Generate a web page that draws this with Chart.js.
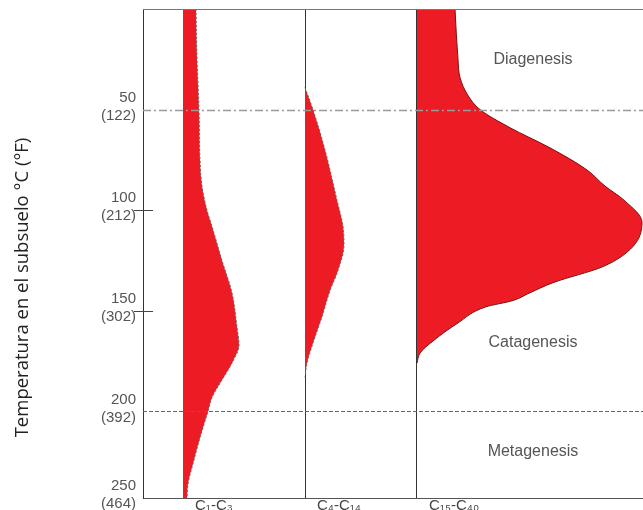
<!DOCTYPE html>
<html>
<head>
<meta charset="utf-8">
<script src="https://cdn.jsdelivr.net/npm/chart.js@4.4.1/dist/chart.umd.min.js"></script>
<style>
    html, body { margin: 0; padding: 0; background: #fff; }
    #wrap { width: 643px; height: 510px; position: relative; }
</style>
</head>
<body>
<div id="wrap"><canvas id="myChart"></canvas></div>
<script>
// Hydrocarbon generation vs. subsurface temperature (°C), relative amount per level
const c1c3Temp = [0, 25, 50, 75, 88, 100, 108, 125, 141, 158, 167, 175, 186, 193, 200, 213, 226, 236, 243];
const c1c3Amount = [2.6, 2.8, 3.2, 3.4, 3.8, 4.8, 5.8, 7.8, 9.8, 10.8, 11.2, 10, 7.4, 5.8, 5, 3.4, 2, 1, 0.8];

const c4c14Temp = [39, 50, 70, 95, 108, 117, 130, 140, 153, 166, 176, 183];
const c4c14Amount = [0, 1.6, 4, 6.4, 7.6, 7.8, 6.6, 5, 3.4, 1.6, 0.4, 0];

const c15c40Temp = [0, 25, 34, 43, 50, 59, 69, 80, 88, 95, 106, 118, 128, 136, 141, 145, 148, 156, 165, 171, 176];
const c15c40Amount = [7.6, 8.2, 8.6, 10.2, 12.6, 18.6, 26.6, 34, 37.6, 41.4, 45, 43.2, 37.2, 27.2, 22.6, 19, 13.8, 8.2, 3.2, 0.6, 0];

const seriesNames = ['C₁-C₃', 'C₄-C₁₄', 'C₁₅-C₄₀'];

const tempTicks = [50, 100, 150, 200, 250];
const fahrenheitTicks = [122, 212, 302, 392, 464];

const zoneNames = ['Diagenesis', 'Catagenesis', 'Metagenesis'];
const zoneLabelTemp = [25, 166, 220];
const zoneBounds = [50, 200];

const yTitle = 'Temperatura en el subsuelo °C (°F)';

// where each column starts on the horizontal scale (0..100)
const colStart = [8, 32.4, 54.8];
const zoneLabelX = 78;
const maxTemp = 243;

const red = '#ED1C24';
const labelFont = '"Liberation Sans", Arial, sans-serif';

const toPoints = (temps, amounts, start) => temps.map((t, i) => ({ x: start + amounts[i], y: t }));

const makeSet = (temps, amounts, col, edge, dash) => ({
    label: seriesNames[col],
    data: toPoints(temps, amounts, colStart[col]),
    indexAxis: 'y',
    fill: { value: colStart[col] },
    backgroundColor: red,
    borderColor: edge,
    borderWidth: 1,
    borderDash: dash,
    pointRadius: 0,
    cubicInterpolationMode: 'monotone'
});

const zonePlugin = {
    id: 'zones',
    afterDatasetsDraw(chart) {
        const { ctx, chartArea: a, scales: { x, y } } = chart;
        ctx.save();

        // top edge of the frame
        ctx.strokeStyle = '#777';
        ctx.lineWidth = 1;
        ctx.beginPath();
        ctx.moveTo(a.left, a.top + 0.5);
        ctx.lineTo(a.right, a.top + 0.5);
        ctx.stroke();

        // diagenesis / catagenesis / metagenesis boundaries
        zoneBounds.forEach((t, i) => {
            const py = Math.round(y.getPixelForValue(t)) + 0.5;
            ctx.setLineDash(i === 0 ? [8, 3, 2, 3] : [4, 2]);
            ctx.strokeStyle = i === 0 ? '#9a9a9a' : '#666';
            ctx.lineWidth = i === 0 ? 1.5 : 1;
            ctx.beginPath();
            ctx.moveTo(a.left, py);
            ctx.lineTo(a.right, py);
            ctx.stroke();
        });
        ctx.setLineDash([]);

        // tick marks crossing the axis
        ctx.strokeStyle = '#444';
        ctx.lineWidth = 1;
        [100, 150].forEach(t => {
            const py = Math.round(y.getPixelForValue(t)) + 0.5;
            ctx.beginPath();
            ctx.moveTo(a.left - 9, py);
            ctx.lineTo(a.left + 10, py);
            ctx.stroke();
        });

        // zone names
        ctx.font = '16px ' + labelFont;
        ctx.fillStyle = '#555';
        ctx.textAlign = 'center';
        ctx.textBaseline = 'middle';
        zoneNames.forEach((name, i) => {
            ctx.fillText(name, x.getPixelForValue(zoneLabelX), y.getPixelForValue(zoneLabelTemp[i]));
        });

        // axis title
        ctx.translate(23, (a.top + a.bottom) / 2 + 34);
        ctx.rotate(-Math.PI / 2);
        ctx.font = '18.5px "Open Sans", sans-serif';
        ctx.fillStyle = '#222';
        ctx.fillText(yTitle, 0, 0);
        ctx.restore();
    }
};

const ctx = document.getElementById('myChart').getContext('2d');
const myChart = new Chart(ctx, {
    type: 'line',
    data: {
        datasets: [
            makeSet(c1c3Temp, c1c3Amount, 0, '#666', [2, 2]),
            makeSet(c4c14Temp, c4c14Amount, 1, '#666', [2, 2]),
            makeSet(c15c40Temp, c15c40Amount, 2, '#7a1010', [])
        ]
    },
    options: {
        indexAxis: 'y',
        responsive: true,
        maintainAspectRatio: false,
        animation: false,
        layout: { padding: { top: 9, left: 0, right: 0, bottom: 0 } },
        scales: {
            x: {
                type: 'linear',
                min: 0,
                max: 100,
                afterBuildTicks: (scale) => { scale.ticks = colStart.map(v => ({ value: v })); },
                afterFit: (scale) => { scale.height = 12; scale.paddingLeft = 0; scale.paddingRight = 0; },
                grid: { color: '#333', lineWidth: 1, drawTicks: false },
                border: { color: '#555' },
                ticks: {
                    align: 'start',
                    labelOffset: 12,
                    padding: -1,
                    maxRotation: 0,
                    autoSkip: false,
                    color: '#444',
                    font: { size: 15, family: labelFont },
                    callback: (value, index) => seriesNames[index]
                }
            },
            y: {
                type: 'linear',
                reverse: true,
                min: 0,
                max: maxTemp,
                afterBuildTicks: (scale) => { scale.ticks = tempTicks.map(v => ({ value: Math.min(v, maxTemp) })); },
                afterFit: (scale) => { scale.width = 143; scale.paddingTop = 0; scale.paddingBottom = 0; },
                grid: { display: false, drawTicks: false },
                border: { color: '#333' },
                ticks: {
                    padding: 7,
                    labelOffset: -3,
                    autoSkip: false,
                    color: '#555',
                    font: { size: 15, family: labelFont, lineHeight: 1.2 },
                    callback: (value, index) => [String(tempTicks[index]), '(' + fahrenheitTicks[index] + ')']
                }
            }
        },
        plugins: {
            legend: { display: false },
            tooltip: { enabled: false }
        }
    },
    plugins: [zonePlugin]
});
</script>
</body>
</html>
